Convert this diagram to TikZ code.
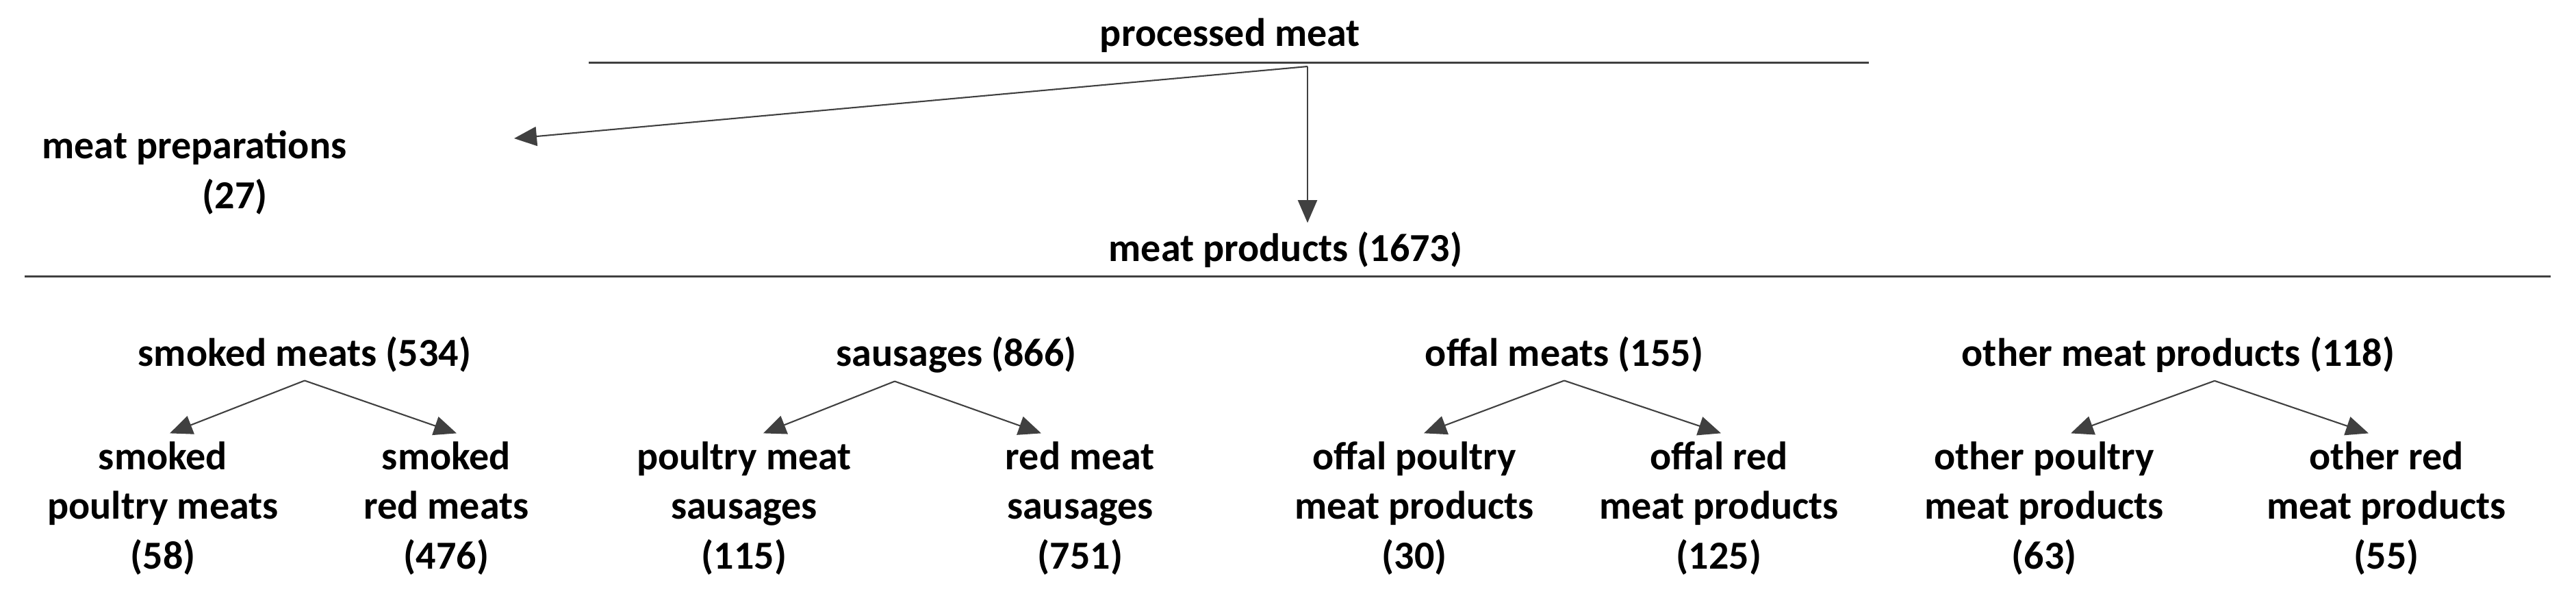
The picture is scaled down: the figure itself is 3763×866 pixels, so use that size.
\documentclass[tikz,border=0pt]{standalone}
\usepackage{fontspec}
\setmainfont{Carlito}
\usepackage{tikz}
\usetikzlibrary{arrows.meta}
\definecolor{dgray}{RGB}{64, 64, 64}

\begin{document}
\begin{tikzpicture}[x = 0.01cm, y = -0.01cm,
	every node/.style = {font = \bfseries\fontsize{16.5pt}{20.5pt}\selectfont, inner sep = 0.12cm, align = center, anchor = base},
	rule/.style = {line width = 0.85pt, draw = dgray},
	arr/.style = {-{Triangle[length = 0.33cm, width = 0.28cm]}, line width = 0.6pt, draw = dgray}]
			\useasboundingbox (0,0) rectangle (3763,866);
			\node (pm) at (1797,67) {processed meat};
			\node (prep) at (284,304) {meat preparations\\\hspace*{1.18cm}(27)};
			\node (prod) at (1878,381) {meat products (1673)};
			\draw[rule] (860,91) -- (2730,91);
			\draw[rule] (36,403) -- (3726,403);
			\coordinate (fork) at (1910,97);
			\coordinate (prepin) at (751,202);
			\draw (fork) edge[arr] (prepin);
			\draw (fork) edge[arr] (fork |- prod.north);
			% second level
			\node (smk) at (445,534) {smoked meats (534)};
			\node (sau) at (1397,534) {sausages (866)};
			\node (off) at (2285,534) {offal meats (155)};
			\node (oth) at (3182,534) {other meat products (118)};
			\node (smk1) at (238,830) {smoked\\poultry meats\\(58)};
			\node (smk2) at (652,830) {smoked\\red meats\\(476)};
			\node (sau1) at (1087,830) {poultry meat\\sausages\\(115)};
			\node (sau2) at (1578,830) {red meat\\sausages\\(751)};
			\node (off1) at (2066,830) {offal poultry\\meat products\\(30)};
			\node (off2) at (2511,830) {offal red\\meat products\\(125)};
			\node (oth1) at (2986,830) {other poultry\\meat products\\(63)};
			\node (oth2) at (3486,830) {other red\\meat products\\(55)};
			\draw (smk.south) edge[arr] ([xshift=0.1cm]smk1.north) edge[arr] ([xshift=0.15cm]smk2.north);
			\draw ([xshift=-0.9cm]sau.south) edge[arr] ([xshift=0.28cm]sau1.north) edge[arr] ([xshift=-0.57cm]sau2.north);
			\draw (off.south) edge[arr] ([xshift=0.14cm]off1.north) edge[arr] ([xshift=0.03cm]off2.north);
			\draw ([xshift=0.53cm]oth.south) edge[arr] ([xshift=0.39cm]oth1.north) edge[arr] ([xshift=-0.26cm]oth2.north);
\end{tikzpicture}
\end{document}
